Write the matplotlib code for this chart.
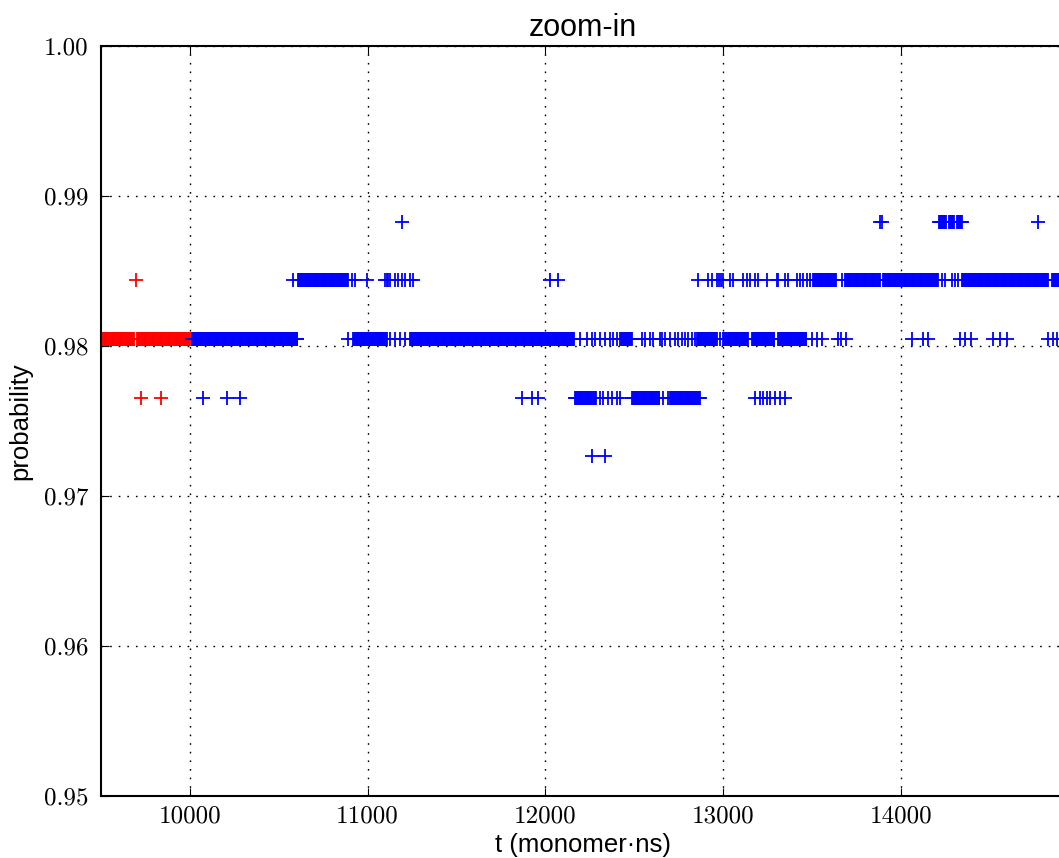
import numpy as np
import matplotlib
matplotlib.use("Agg")
import matplotlib.pyplot as plt

# probability levels (y values)
L_0973 = 0.97266
L_0977 = 0.97656
L_0980 = 0.98047
L_0984 = 0.98438
L_0988 = 0.98828

DT = 5  # sampling step of the time series (monomer*ns)

# ---- red series (t < 10000): dense runs (start, end) and isolated samples
red_0980_runs = [(9500, 9685), (9705, 10000)]
red_0980_pts = []
red_0984_pts = [9695]
red_0977_pts = [9725, 9838]

# ---- blue series (t >= 10000)
blue_0980_runs = [(10010, 10608), (10918, 11109), (11238, 12167), (12420, 12487),
                  (12853, 12966), (13000, 13140), (13162, 13219), (13224, 13292),
                  (13309, 13472)]
blue_0980_pts = [10890, 11126, 11154, 11182, 11210, 12195, 12234, 12262, 12279,
                 12307, 12335, 12364, 12381, 12403, 12544, 12561, 12589, 12606,
                 12645, 12656, 12673, 12701, 12729, 12746, 12769, 12786, 12803,
                 12825, 12842, 12983, 13500, 13528, 13556, 13645, 13665, 13690,
                 14063, 14125, 14153, 14330, 14361, 14395, 14518, 14558, 14597,
                 14828, 14856, 14878]

blue_0984_runs = [(10608, 10890), (13507, 13639), (13686, 13883), (13901, 14211),
                  (14342, 14830), (14850, 14925)]
blue_0984_pts = [10580, 10912, 10929, 10996, 11098, 11107, 11115, 11126, 11154,
                 11173, 11192, 11210, 11238, 11257, 12026, 12071, 12860, 12917,
                 12936, 12964, 12975, 12990, 13001, 13039, 13057, 13114, 13133,
                 13151, 13179, 13198, 13245, 13301, 13311, 13348, 13367, 13414,
                 13433, 13451, 13470, 13489, 13667, 14230, 14248, 14286, 14305,
                 14323]

blue_0977_runs = [(12167, 12290), (12487, 12645), (12700, 12870)]
blue_0977_pts = [10074, 10209, 10282, 11869, 11925, 11959, 12307, 12324, 12352,
                 12375, 12403, 12420, 12662, 12690, 13179, 13207, 13226, 13245,
                 13264, 13292, 13320, 13348]

blue_0973_pts = [12262, 12335]

blue_0988_runs = [(14215, 14255), (14270, 14300), (14315, 14345)]
blue_0988_pts = [11193, 13885, 13895, 14772]

x_ticks = [10000, 11000, 12000, 13000, 14000]
y_ticks = [0.95, 0.96, 0.97, 0.98, 0.99, 1.00]
y_tick_labels = ["0.95", "0.96", "0.97", "0.98", "0.99", "1.00"]


def expand(runs, pts):
    ts = [np.arange(a, b + 1, DT) for a, b in runs]
    ts.append(np.asarray(pts, dtype=float))
    return np.concatenate(ts)


red_groups = [(red_0980_runs, red_0980_pts, L_0980),
              ([], red_0984_pts, L_0984),
              ([], red_0977_pts, L_0977)]
blue_groups = [(blue_0980_runs, blue_0980_pts, L_0980),
               (blue_0984_runs, blue_0984_pts, L_0984),
               (blue_0977_runs, blue_0977_pts, L_0977),
               ([], blue_0973_pts, L_0973),
               (blue_0988_runs, blue_0988_pts, L_0988)]


def series(groups):
    tt, pp = [], []
    for runs, pts, lev in groups:
        t = expand(runs, pts)
        tt.append(t)
        pp.append(np.full(len(t), lev))
    return np.concatenate(tt), np.concatenate(pp)


t_red, p_red = series(red_groups)
t_blue, p_blue = series(blue_groups)

plt.rcParams["lines.scale_dashes"] = False
fig = plt.figure(figsize=(10.59, 8.58), dpi=100)
ax = fig.add_axes([101 / 1059, 62 / 858, 964 / 1059, 750 / 858])

mk = dict(linestyle="none", marker="+", markersize=10, markeredgewidth=1.3)
ax.plot(t_red, p_red, color="#ff0000", **mk)
ax.plot(t_blue, p_blue, color="#0000ff", **mk)

ax.set_xlim(9500, 9500 + 964 * 5.626)
ax.set_ylim(0.95, 1.00)
ax.set_xticks(x_ticks)
ax.set_xticklabels([str(v) for v in x_ticks])
ax.set_yticks(y_ticks)
ax.set_yticklabels(y_tick_labels)

ax.grid(True, color="black", linestyle=(0, (1.2, 5.0)), linewidth=1.0)
ax.tick_params(direction="in", top=True, right=True, length=5.5, width=0.8,
               labelsize=18, labelfontfamily="cmr10")
ax.tick_params(axis="x", pad=7)
ax.tick_params(axis="y", pad=9)
for sp in ax.spines.values():
    sp.set_linewidth(1.5)

lab_font = dict(family="Liberation Sans", size=18.5)
ax.set_xlabel("t (monomer\u00b7ns)", fontdict=lab_font, labelpad=4)
ax.set_ylabel("probability", fontdict=lab_font, labelpad=8)
ax.set_title("zoom-in", family="Liberation Sans", size=22, pad=7)

fig.savefig("out.png", dpi=100)
